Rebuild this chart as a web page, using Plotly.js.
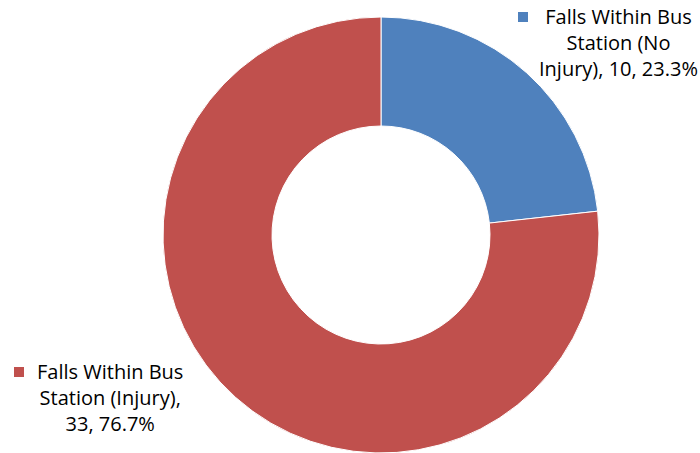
<!DOCTYPE html>
<html>
<head>
<meta charset="utf-8">
<script src="https://cdn.plot.ly/plotly-3.0.1.min.js"></script>
<style>html,body{margin:0;padding:0;background:#fff;}#chart{width:700px;height:453px;}</style>
</head>
<body>
<div id="chart"></div>
<script>
const categories = ["Falls Within Bus Station (No Injury)", "Falls Within Bus Station (Injury)"];
const values = [10, 33];
const percents = ["23.3%", "76.7%"];
const labelTexts = ["Falls Within Bus<br>Station (No<br>Injury), 10, 23.3%", "Falls Within Bus<br>Station (Injury),<br>33, 76.7%"];
const colors = ["#4F81BD", "#C0504D"];

const W = 700, H = 453;
const cx = 381, cy = 235, R = 218;
const px = x => x / W, py = y => 1 - y / H;

const data = [{
  type: 'pie',
  labels: categories,
  values: values,
  hole: 0.5,
  sort: false,
  direction: 'clockwise',
  rotation: 0,
  textinfo: 'none',
  hoverinfo: 'label+value+percent',
  marker: {colors: colors, line: {color: '#ffffff', width: 1}},
  domain: {x: [px(cx - R), px(cx + R)], y: [py(cy + R), py(cy - R)]},
  showlegend: false
}];

const font = {family: '"Open Sans", sans-serif', size: 20, color: '#000000'};
const labelPos = [
  {tx: 618, ty: 42, sx: 518, sy: 12},
  {tx: 110, ty: 397, sx: 14, sy: 367}
];
const annotations = labelTexts.map((t, i) => ({
  text: t, xref: 'paper', yref: 'paper', x: px(labelPos[i].tx), y: py(labelPos[i].ty),
  xanchor: 'center', yanchor: 'middle', align: 'center', showarrow: false, font: font
}));
const shapes = colors.map((c, i) => ({
  type: 'rect', xref: 'paper', yref: 'paper',
  x0: px(labelPos[i].sx), x1: px(labelPos[i].sx + 10),
  y0: py(labelPos[i].sy + 10), y1: py(labelPos[i].sy),
  fillcolor: c, line: {width: 0}
}));

const layout = {
  width: W, height: H,
  margin: {l: 0, r: 0, t: 0, b: 0},
  paper_bgcolor: '#ffffff', plot_bgcolor: '#ffffff',
  annotations: annotations, shapes: shapes
};
Plotly.newPlot('chart', data, layout, {displayModeBar: false, staticPlot: true});
</script>
</body>
</html>
